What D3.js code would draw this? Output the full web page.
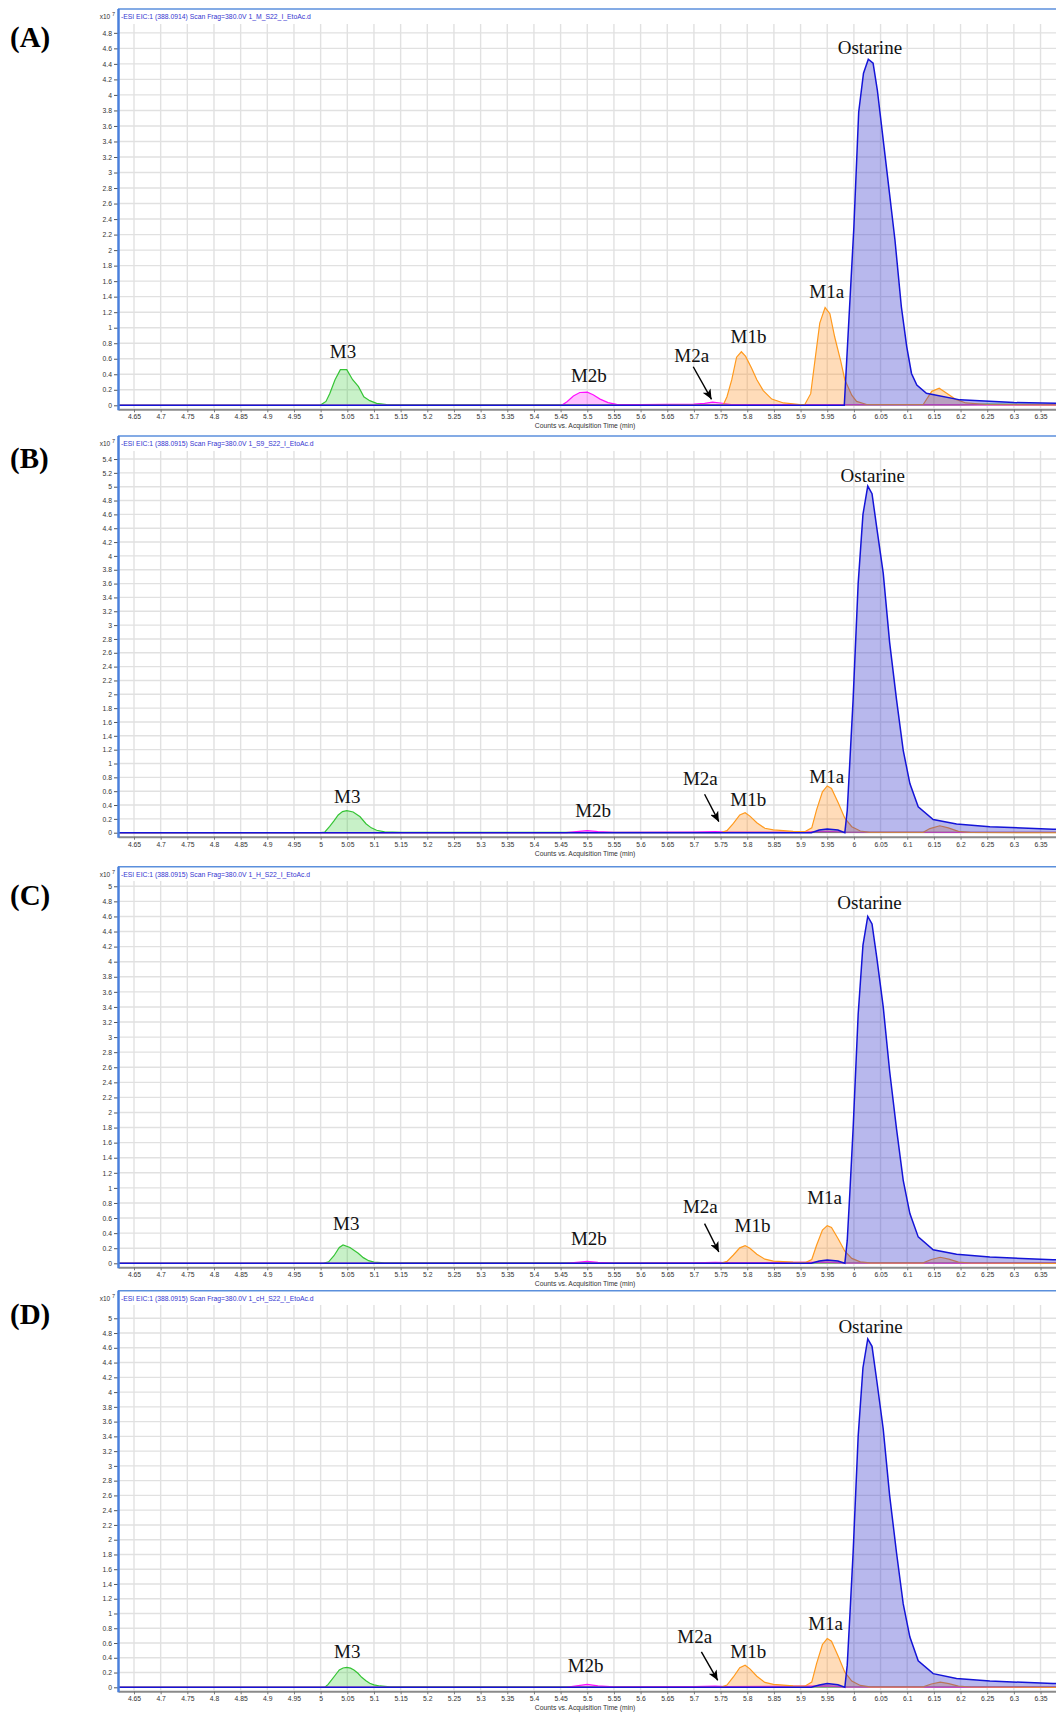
<!DOCTYPE html>
<html>
<head>
<meta charset="utf-8">
<script src="https://cdn.jsdelivr.net/npm/d3@7"></script>
<style>
  body { margin: 0; background: #fff; }
  svg { display: block; }
</style>
</head>
<body>
<svg id="chart" width="1056" height="1713"></svg>
<script>
// ---- data: [time (min), counts x10^7] ----
const tagNames = ["(A)", "(B)", "(C)", "(D)"];
const titles = [
  "-ESI EIC:1 (388.0914) Scan Frag=380.0V 1_M_S22_I_EtoAc.d",
  "-ESI EIC:1 (388.0915) Scan Frag=380.0V 1_S9_S22_I_EtoAc.d",
  "-ESI EIC:1 (388.0915) Scan Frag=380.0V 1_H_S22_I_EtoAc.d",
  "-ESI EIC:1 (388.0915) Scan Frag=380.0V 1_cH_S22_I_EtoAc.d"
];
const yTickMax = [4.8, 5.4, 5, 5];

// panel A
const greenA = [[4.62,0],[4.999,0],[5.01,0.05],[5.017,0.15],[5.027,0.33],[5.037,0.46],[5.049,0.46],[5.06,0.33],[5.071,0.24],[5.081,0.11],[5.092,0.06],[5.105,0.025],[5.124,0.01],[5.161,0.005],[6.2,0.005],[6.25,0.015],[6.379,0.01]];
const magentaA = [[4.62,0],[5.452,0],[5.462,0.045],[5.474,0.12],[5.486,0.165],[5.5,0.17],[5.511,0.135],[5.524,0.08],[5.539,0.035],[5.555,0.012],[5.6,0.01],[5.7,0.015],[5.72,0.025],[5.735,0.04],[5.75,0.03],[5.77,0.01],[6.379,0.005]];
const orangeA = [[4.62,0],[5.6,0],[5.755,0.005],[5.762,0.11],[5.771,0.33],[5.78,0.62],[5.789,0.69],[5.797,0.63],[5.808,0.48],[5.818,0.33],[5.83,0.19],[5.846,0.08],[5.868,0.03],[5.899,0.01],[5.908,0.01],[5.919,0.15],[5.927,0.58],[5.936,1.06],[5.946,1.26],[5.955,1.18],[5.964,0.88],[5.975,0.58],[5.983,0.33],[5.996,0.13],[6.005,0.05],[6.024,0.01],[6.13,0.01],[6.146,0.18],[6.16,0.22],[6.174,0.155],[6.19,0.08],[6.21,0.03],[6.25,0.01],[6.379,0.005]];
const blueA = [[4.62,0],[5.982,0],[6.0,2.3],[6.009,3.78],[6.018,4.28],[6.027,4.46],[6.036,4.41],[6.044,4.06],[6.061,3.07],[6.077,2.13],[6.089,1.27],[6.099,0.76],[6.108,0.41],[6.118,0.26],[6.136,0.155],[6.199,0.07],[6.3,0.035],[6.379,0.026]];

// panel B
const greenB = [[4.62,0],[5.0,0],[5.008,0.01],[5.017,0.09],[5.025,0.17],[5.033,0.256],[5.041,0.305],[5.049,0.318],[5.061,0.3],[5.074,0.23],[5.085,0.13],[5.095,0.07],[5.105,0.035],[5.12,0.012],[5.15,0.004],[6.379,0.004]];
const magentaB = [[4.62,0],[5.46,0],[5.48,0.015],[5.5,0.03],[5.52,0.015],[5.55,0.005],[5.7,0.008],[5.74,0.015],[5.76,0.01],[5.9,0.01],[5.95,0.02],[5.98,0.01],[6.379,0.005]];
const orangeB = [[4.62,0],[5.75,0],[5.762,0.03],[5.774,0.136],[5.786,0.256],[5.796,0.289],[5.805,0.24],[5.818,0.145],[5.833,0.064],[5.849,0.04],[5.886,0.02],[5.908,0.015],[5.921,0.07],[5.93,0.33],[5.941,0.59],[5.95,0.675],[5.958,0.64],[5.971,0.425],[5.983,0.21],[5.996,0.087],[6.012,0.025],[6.03,0.005],[6.13,0.005],[6.1425,0.06],[6.161,0.1],[6.177,0.07],[6.196,0.02],[6.218,0.005],[6.379,0]];
const blueB = [[4.62,0],[5.92,0],[5.935,0.04],[5.95,0.055],[5.97,0.04],[5.983,0],[5.9875,0.32],[5.9925,1.04],[5.9985,1.92],[6.008,3.6],[6.017,4.6],[6.026,5.01],[6.034,4.9],[6.043,4.4],[6.055,3.75],[6.067,2.75],[6.08,1.92],[6.0925,1.19],[6.105,0.71],[6.1206,0.375],[6.1487,0.19],[6.1925,0.125],[6.255,0.087],[6.3735,0.05],[6.379,0.05]];

// panel C
const greenC = [[4.62,0],[5.005,0],[5.015,0.02],[5.025,0.1],[5.035,0.21],[5.042,0.243],[5.055,0.21],[5.0705,0.133],[5.08,0.075],[5.09,0.035],[5.1,0.015],[5.12,0.005],[6.379,0.003]];
const magentaC = [[4.62,0],[5.46,0],[5.48,0.012],[5.5,0.025],[5.52,0.012],[5.55,0.004],[5.7,0.006],[5.74,0.012],[5.76,0.008],[5.95,0.015],[5.98,0.005],[6.379,0.003]];
const orangeC = [[4.62,0],[5.75,0],[5.762,0.025],[5.774,0.11],[5.786,0.205],[5.796,0.235],[5.805,0.2],[5.818,0.12],[5.833,0.055],[5.849,0.03],[5.886,0.015],[5.91,0.012],[5.921,0.05],[5.93,0.24],[5.941,0.44],[5.95,0.5],[5.958,0.475],[5.971,0.32],[5.983,0.16],[5.996,0.065],[6.012,0.02],[6.03,0.005],[6.13,0.005],[6.145,0.05],[6.162,0.08],[6.178,0.055],[6.196,0.015],[6.22,0.004],[6.379,0]];
const blueC = [[4.62,0],[5.92,0],[5.935,0.03],[5.95,0.045],[5.97,0.03],[5.983,0],[5.9875,0.3],[5.9925,0.95],[5.9985,1.78],[6.008,3.3],[6.017,4.22],[6.026,4.6],[6.034,4.5],[6.043,4.05],[6.055,3.4],[6.067,2.55],[6.08,1.78],[6.0925,1.1],[6.105,0.66],[6.1206,0.35],[6.1487,0.18],[6.1925,0.12],[6.255,0.082],[6.3735,0.048],[6.379,0.048]];

// panel D
const greenD = [[4.62,0],[5.008,0],[5.014,0.04],[5.0206,0.1],[5.028,0.17],[5.035,0.235],[5.042,0.262],[5.049,0.27],[5.056,0.26],[5.0625,0.235],[5.07,0.19],[5.077,0.135],[5.085,0.09],[5.092,0.054],[5.1,0.033],[5.111,0.018],[5.13,0.006],[6.379,0.003]];
const magentaD = [[4.62,0],[5.46,0],[5.48,0.02],[5.5,0.04],[5.52,0.02],[5.55,0.005],[5.7,0.008],[5.74,0.015],[5.76,0.01],[5.95,0.02],[5.98,0.005],[6.379,0.003]];
const orangeD = [[4.62,0],[5.75,0],[5.762,0.03],[5.774,0.14],[5.786,0.265],[5.796,0.3],[5.805,0.25],[5.818,0.15],[5.833,0.066],[5.849,0.04],[5.886,0.02],[5.908,0.015],[5.921,0.07],[5.93,0.32],[5.941,0.58],[5.95,0.66],[5.958,0.625],[5.971,0.415],[5.983,0.205],[5.996,0.085],[6.012,0.025],[6.03,0.005],[6.13,0.005],[6.145,0.045],[6.162,0.07],[6.178,0.05],[6.196,0.015],[6.22,0.004],[6.379,0]];
const blueD = [[4.62,0],[5.92,0],[5.935,0.03],[5.95,0.05],[5.97,0.035],[5.983,0],[5.9875,0.3],[5.9925,0.98],[5.9985,1.82],[6.008,3.4],[6.017,4.33],[6.026,4.72],[6.034,4.62],[6.043,4.15],[6.055,3.5],[6.067,2.6],[6.08,1.82],[6.0925,1.13],[6.105,0.68],[6.1206,0.36],[6.1487,0.185],[6.1925,0.12],[6.255,0.085],[6.3735,0.05],[6.379,0.05]];

// peak labels: [text, time, counts]
const labelsA = [["Ostarine",6.030,4.527],["M1a",5.949,1.387],["M1b",5.8025,0.807],["M2a",5.696,0.562],["M2b",5.503,0.304],["M3",5.042,0.606]];
const labelsB = [["Ostarine",6.0354,5.068],["M1a",5.949,0.723],["M1b",5.802,0.392],["M2a",5.712,0.691],["M2b",5.511,0.234],["M3",5.050,0.423]];
const labelsC = [["Ostarine",6.0293,4.694],["M1a",5.945,0.781],["M1b",5.810,0.419],["M2a",5.712,0.667],["M2b",5.503,0.245],["M3",5.048,0.448]];
const labelsD = [["Ostarine",6.0313,4.80],["M1a",5.947,0.770],["M1b",5.802,0.400],["M2a",5.7015,0.607],["M2b",5.497,0.207],["M3",5.050,0.400]];
// M2a arrows: [t1, v1, t2, v2]
const arrows = [[5.6987,0.497,5.733,0.077],[5.720,0.555,5.7467,0.160],[5.720,0.527,5.7467,0.150],[5.714,0.480,5.7446,0.095]];

// ---- layout ----
const panels = [
  {traces:[greenA,magentaA,orangeA,blueA], labels:labelsA, frameTop:9,     plotTop:24,   y0:405.3,  yMax:4.914, tagY:47},
  {traces:[greenB,magentaB,orangeB,blueB], labels:labelsB, frameTop:436,   plotTop:451,  y0:832.7,  yMax:5.516, tagY:468},
  {traces:[greenC,magentaC,orangeC,blueC], labels:labelsC, frameTop:866.7, plotTop:881,  y0:1263.3, yMax:5.07,  tagY:905},
  {traces:[greenD,magentaD,orangeD,blueD], labels:labelsD, frameTop:1290.7,plotTop:1305, y0:1687.3, yMax:5.18,  tagY:1324}
];
const traceStyle = [
  {line:"#35c435", fill:"#33cc33", op:0.27},
  {line:"#ff10ff", fill:"#ff33ff", op:0.30},
  {line:"#ff9a1e", fill:"#ff9933", op:0.34},
  {line:"#1414d8", fill:"#3333cc", op:0.35}
];

const LEFT = 118, RIGHT = 1056;
const sans = "'Liberation Sans', Arial, sans-serif";
const serif = "'Liberation Serif', 'Times New Roman', serif";

var svg = d3.select("#chart");
var x = d3.scaleLinear().domain([4.62, 6.379]).range([LEFT, RIGHT]);
var xTicks = d3.range(93, 128).map(i => i * 0.05);

svg.append("defs").append("marker")
  .attr("id", "arrowhead")
  .attr("markerUnits", "userSpaceOnUse")
  .attr("markerWidth", 11).attr("markerHeight", 9)
  .attr("refX", 10).attr("refY", 4.5)
  .attr("orient", "auto")
  .append("path")
  .attr("d", "M0,0 L10,4.5 L0,9 L2.5,4.5 Z")
  .attr("fill", "#000");

panels.forEach((p, i) => {
  var y = d3.scaleLinear().domain([0, p.yMax]).range([p.y0, p.plotTop]);
  var yTicks = d3.range(0, Math.round(yTickMax[i] / 0.2) + 1).map(k => k * 0.2);
  var g = svg.append("g").attr("class", "panel");

  svg.select("defs").append("clipPath").attr("id", "clip" + i)
    .append("rect")
    .attr("x", LEFT).attr("y", p.plotTop)
    .attr("width", RIGHT - LEFT).attr("height", p.y0 + 3 - p.plotTop);

  // grid
  var grid = g.append("g").attr("stroke", "#e1e1e1").attr("stroke-width", 1.4);
  grid.selectAll(".gx").data(xTicks).join("line").attr("class", "gx")
    .attr("x1", d => x(d)).attr("x2", d => x(d))
    .attr("y1", p.plotTop).attr("y2", p.y0 + 3);
  grid.selectAll(".gy").data(yTicks).join("line").attr("class", "gy")
    .attr("x1", LEFT).attr("x2", RIGHT)
    .attr("y1", d => y(d)).attr("y2", d => y(d));

  // traces
  var area = d3.area().x(d => x(d[0])).y0(y(0)).y1(d => y(d[1]));
  var line = d3.line().x(d => x(d[0])).y(d => y(d[1]));
  var tg = g.append("g").attr("clip-path", "url(#clip" + i + ")");
  p.traces.forEach((tr, j) => {
    var s = traceStyle[j];
    tg.append("path").datum(tr).attr("d", area)
      .attr("fill", s.fill).attr("fill-opacity", s.op);
    tg.append("path").datum(tr).attr("d", line)
      .attr("fill", "none").attr("stroke", s.line)
      .attr("stroke-width", j === 3 ? 1.5 : 1.2);
  });

  // x axis
  var xa = g.append("g").attr("transform", `translate(0,${p.y0 + 4})`)
    .call(d3.axisBottom(x).tickValues(xTicks).tickSize(3).tickSizeOuter(0)
      .tickPadding(2).tickFormat(d => +d.toFixed(2)));
  xa.select(".domain").attr("stroke", "#8a8a8a").attr("stroke-width", 2);
  xa.selectAll(".tick line").attr("stroke", "#777");
  xa.selectAll("text").attr("font-family", sans).attr("font-size", 6.8).attr("fill", "#333");

  g.append("text")
    .attr("x", (LEFT + RIGHT) / 2 - 2).attr("y", p.y0 + 23)
    .attr("text-anchor", "middle")
    .attr("font-family", sans).attr("font-size", 6.8).attr("fill", "#333")
    .text("Counts vs. Acquisition Time (min)");

  // y axis
  var ya = g.append("g").attr("transform", `translate(${LEFT},0)`)
    .call(d3.axisLeft(y).tickValues(yTicks).tickSize(4).tickPadding(2)
      .tickFormat(d => +d.toFixed(1)));
  ya.select(".domain").remove();
  ya.selectAll(".tick line").attr("stroke", "#555");
  ya.selectAll("text").attr("font-family", sans).attr("font-size", 6.8).attr("fill", "#333");

  // frame
  g.append("line").attr("x1", LEFT).attr("x2", RIGHT)
    .attr("y1", p.frameTop).attr("y2", p.frameTop)
    .attr("stroke", "#5b8fdc").attr("stroke-width", 1.5);
  g.append("line").attr("x1", LEFT + 0.5).attr("x2", LEFT + 0.5)
    .attr("y1", p.frameTop).attr("y2", p.y0 + 5)
    .attr("stroke", "#4a80dc").attr("stroke-width", 2.5);

  // header
  var hx = g.append("text").attr("x", LEFT - 3).attr("y", p.frameTop + 10)
    .attr("text-anchor", "end").attr("font-family", sans)
    .attr("font-size", 6.5).attr("fill", "#333");
  hx.append("tspan").text("x10 ");
  hx.append("tspan").attr("dy", -3).attr("font-size", 5.5).text("7");
  g.append("text").attr("x", LEFT + 3).attr("y", p.frameTop + 10)
    .attr("font-family", sans).attr("font-size", 6.8).attr("fill", "#3535d0")
    .text(titles[i]);

  // panel tag
  g.append("text").attr("x", 10).attr("y", p.tagY)
    .attr("font-family", serif).attr("font-weight", "bold")
    .attr("font-size", 29).attr("fill", "#000")
    .text(tagNames[i]);

  // peak labels
  g.selectAll(".peak").data(p.labels).join("text").attr("class", "peak")
    .attr("x", d => x(d[1])).attr("y", d => y(d[2]))
    .attr("text-anchor", "middle")
    .attr("font-family", serif).attr("font-size", 19).attr("fill", "#111")
    .text(d => d[0]);

  // M2a arrow
  var a = arrows[i];
  g.append("line")
    .attr("x1", x(a[0])).attr("y1", y(a[1]))
    .attr("x2", x(a[2])).attr("y2", y(a[3]))
    .attr("stroke", "#000").attr("stroke-width", 1.4)
    .attr("marker-end", "url(#arrowhead)");
});
</script>
</body>
</html>
